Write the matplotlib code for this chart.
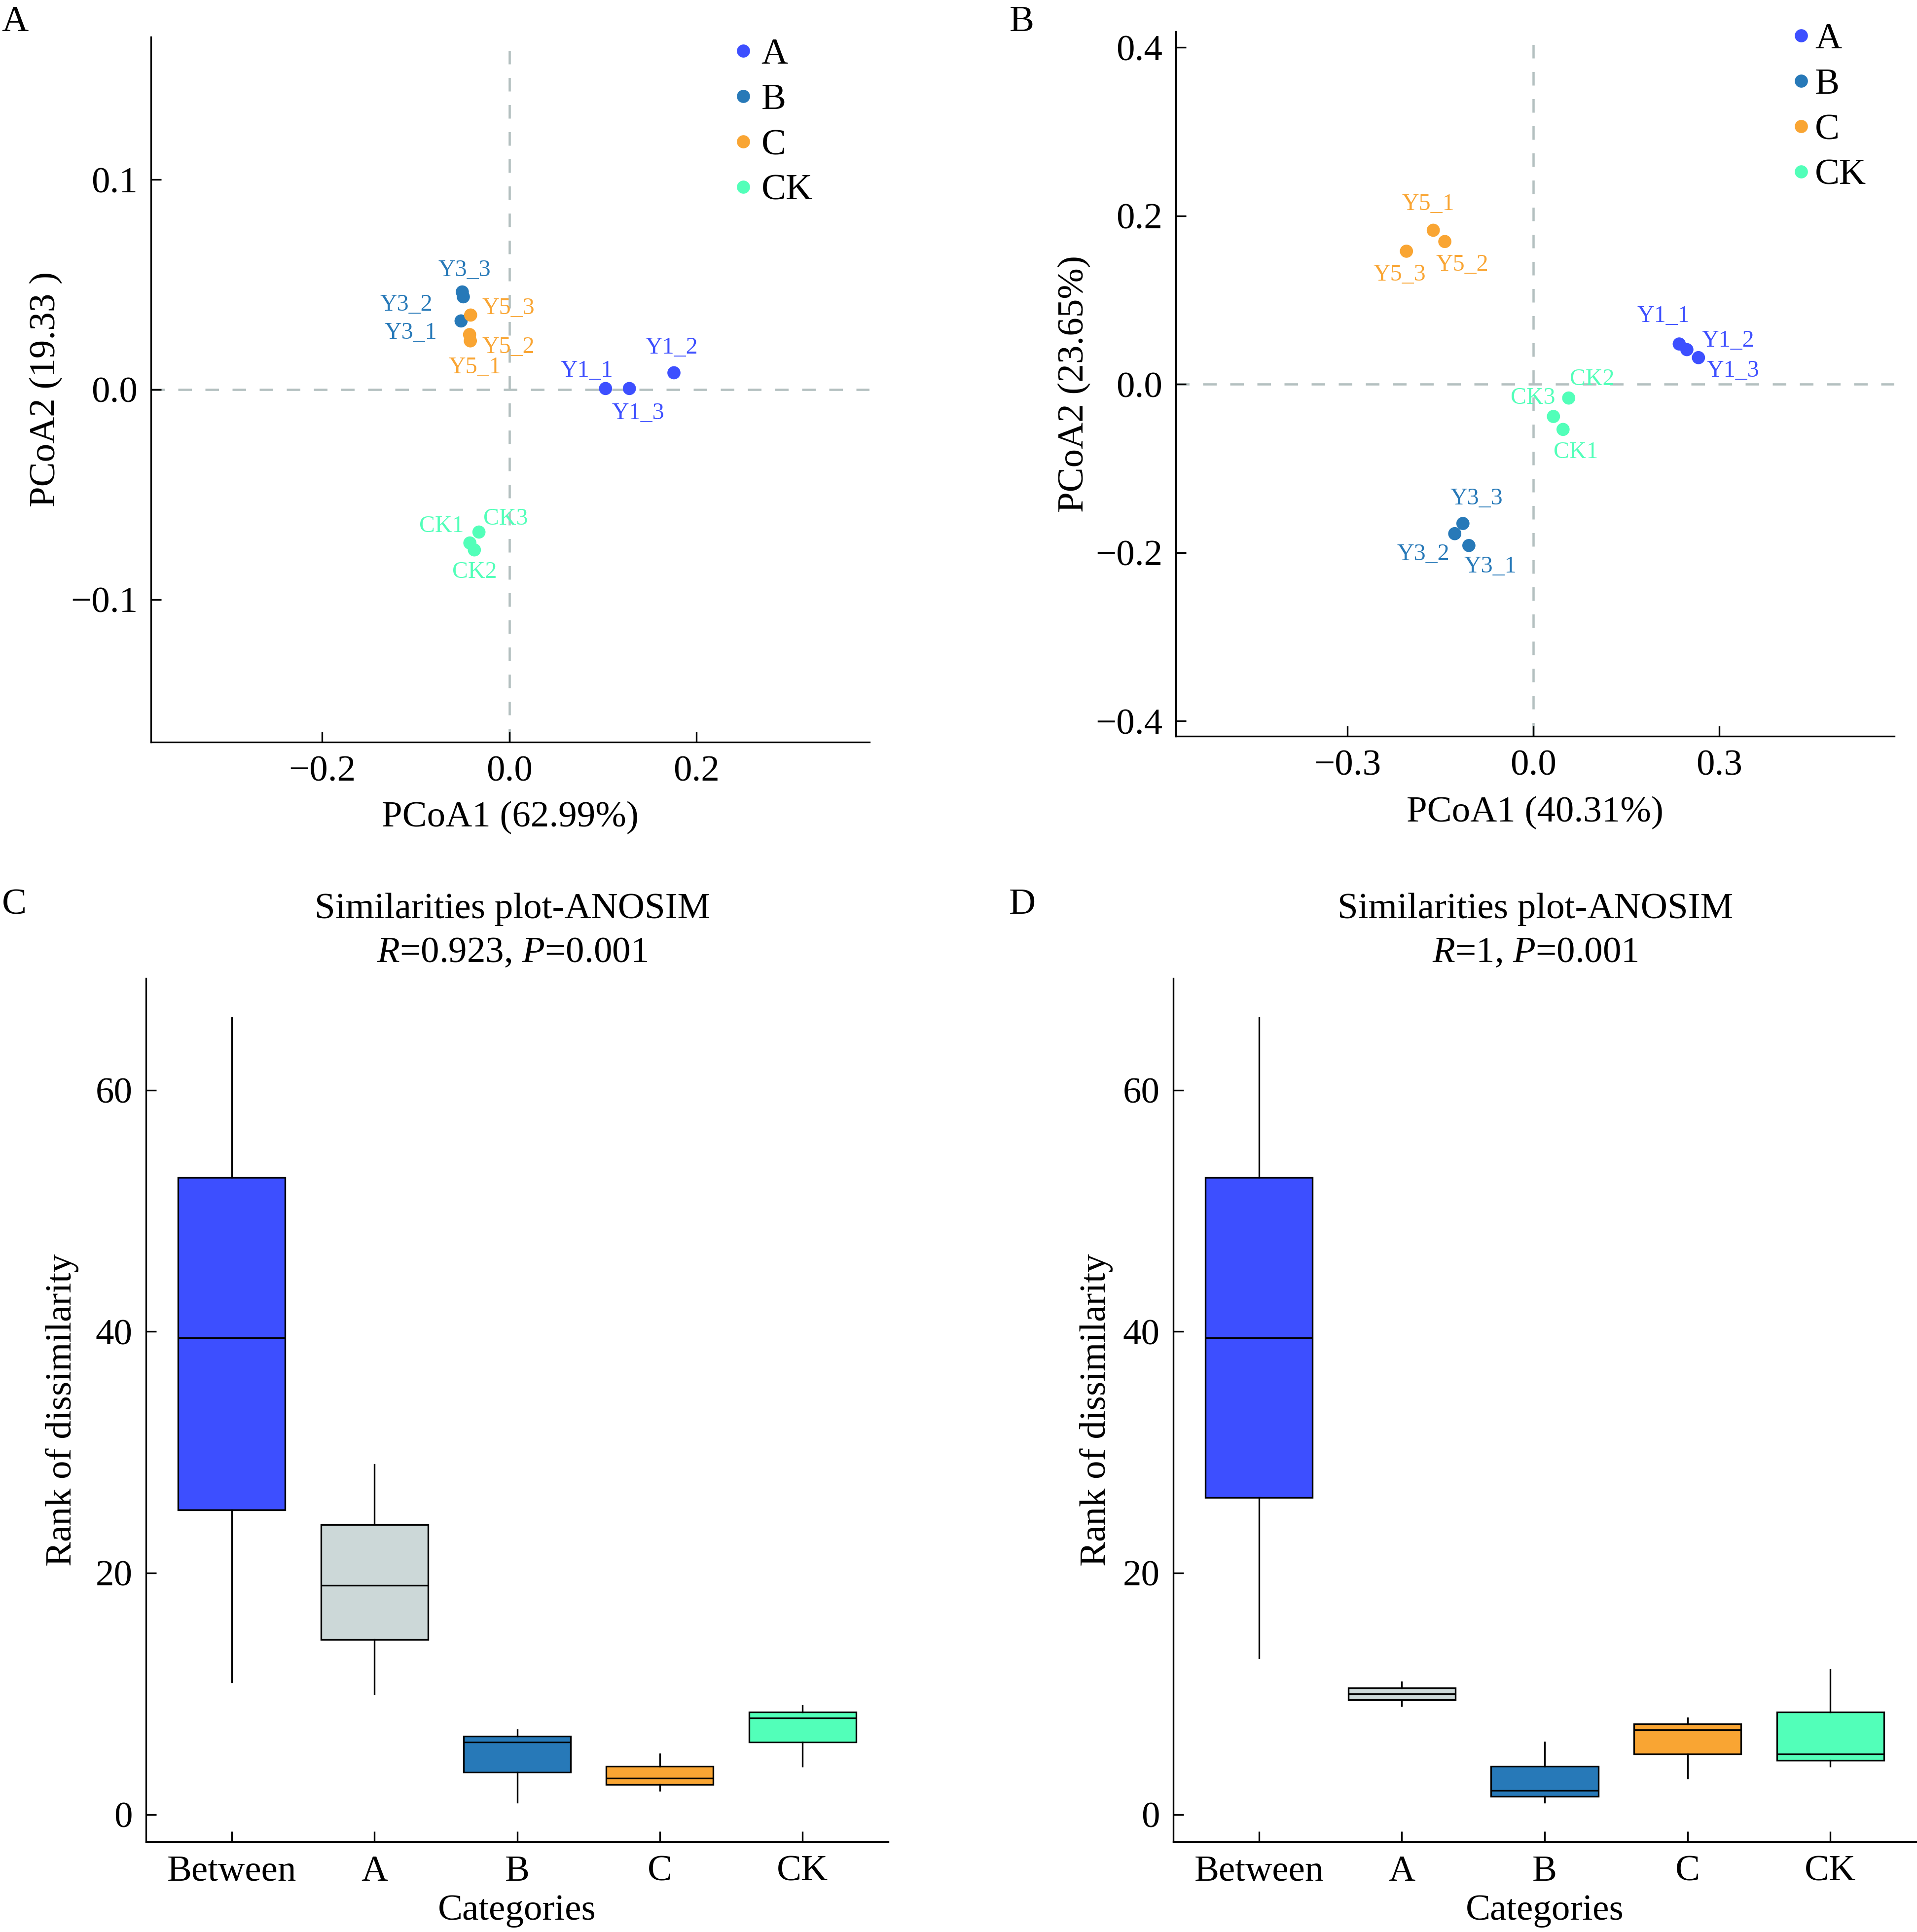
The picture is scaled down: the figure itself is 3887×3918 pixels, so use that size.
import matplotlib
matplotlib.use("Agg")
import matplotlib.pyplot as plt
from matplotlib.lines import Line2D

plt.rcParams['font.family'] = ['Liberation Serif', 'DejaVu Serif']
plt.rcParams['mathtext.fontset'] = 'custom'
plt.rcParams['mathtext.rm'] = 'Liberation Serif'
plt.rcParams['mathtext.it'] = 'Liberation Serif:italic'

# ---------------- data ----------------
groups = ['A', 'B', 'C', 'CK']
group_colors = ['#3D4FFF', '#2779B8', '#F9A533', '#52FFB9']

samples = ['Y1_1', 'Y1_2', 'Y1_3', 'Y3_1', 'Y3_2', 'Y3_3',
           'Y5_1', 'Y5_2', 'Y5_3', 'CK1', 'CK2', 'CK3']
sample_group = ['A', 'A', 'A', 'B', 'B', 'B', 'C', 'C', 'C', 'CK', 'CK', 'CK']

pcoa_a_x = [0.1029, 0.1760, 0.1284, -0.0515, -0.0491, -0.0502,
            -0.0416, -0.0424, -0.0413, -0.0421, -0.0373, -0.0324]
pcoa_a_y = [0.0005, 0.0080, 0.0005, 0.0327, 0.0442, 0.0465,
            0.0232, 0.0262, 0.0355, -0.0731, -0.0764, -0.0679]

pcoa_b_x = [0.2351, 0.2474, 0.2661, -0.1042, -0.1270, -0.1138,
            -0.1616, -0.1430, -0.2049, 0.0477, 0.0568, 0.0322]
pcoa_b_y = [0.0479, 0.0412, 0.0317, -0.1915, -0.1774, -0.1653,
            0.1830, 0.1696, 0.1581, -0.0536, -0.0163, -0.0382]

pcoa_a_xlabel = 'PCoA1 (62.99%)'
pcoa_a_ylabel = 'PCoA2 (19.33 )'
pcoa_b_xlabel = 'PCoA1 (40.31%)'
pcoa_b_ylabel = 'PCoA2 (23.65%)'

a_xticks = [-0.2, 0.0, 0.2]
a_yticks = [-0.1, 0.0, 0.1]
b_xticks = [-0.3, 0.0, 0.3]
b_yticks = [-0.4, -0.2, 0.0, 0.2, 0.4]

box_categories = ['Between', 'A', 'B', 'C', 'CK']
box_colors = ['#3D4FFF', '#CCD8D8', '#2779B8', '#F9A533', '#52FFB9']

# panel C box statistics (rank of dissimilarity)
c_low = [11, 10, 1, 2, 4]
c_q1 = [25.25, 14.5, 3.5, 2.5, 6]
c_med = [39.5, 19, 6, 3, 8]
c_q3 = [52.75, 24, 6.5, 4, 8.5]
c_high = [66, 29, 7, 5, 9]

# panel D box statistics
d_low = [13, 9, 1, 3, 4]
d_q1 = [26.25, 9.5, 1.5, 5, 4.5]
d_med = [39.5, 10, 2, 7, 5]
d_q3 = [52.75, 10.5, 4, 7.5, 8.5]
d_high = [66, 11, 6, 8, 12]

box_yticks = [0, 20, 40, 60]
c_title = ['Similarities plot-ANOSIM', r'$\mathit{R}$=0.923, $\mathit{P}$=0.001']
d_title = ['Similarities plot-ANOSIM', r'$\mathit{R}$=1, $\mathit{P}$=0.001']

# label offsets (points, relative to the point; cap-centre)
a_label_off = [(-9.1, 9.6), (-1.2, 13.1), (4.2, -11.0), (-24.6, -5.0), (-27.7, -2.9), (1.1, 11.6),
               (2.2, -12.1), (18.9, -5.1), (18.4, 4.3), (-13.8, 9.1), (0.2, -9.8), (13.0, 7.4)]
b_label_off = [(-7.7, 14.6), (20.0, 5.2), (16.8, -5.5), (10.5, -9.4), (-15.4, -9.0), (6.6, 13.1),
               (-2.6, 13.5), (8.5, -10.3), (-3.3, -10.6), (6.3, -10.1), (11.3, 10.1), (-9.9, 9.9)]

# ---------------- figure ----------------
W, H = 3887, 3918
fig = plt.figure(figsize=(W / 300, H / 300), dpi=300)

def frac(l, r, b, t):
    return [l / W, 1 - b / H, (r - l) / W, (b - t) / H]

axA = fig.add_axes(frac(306, 1763, 1505, 75))
axB = fig.add_axes(frac(2384, 3841, 1493, 64))
axC = fig.add_axes(frac(296, 1801, 3735, 1984))
axD = fig.add_axes(frac(2379, 3885, 3735, 1984))

FS = 18
LAB_FS = 11.5
color_of = dict(zip(groups, group_colors))

def style(ax):
    for s in ['top', 'right']:
        ax.spines[s].set_visible(False)
    for s in ['left', 'bottom']:
        ax.spines[s].set_linewidth(0.8)
    ax.tick_params(direction='in', length=5, width=0.8, labelsize=FS, pad=6.5)

def fmt(v):
    return f"{v:.1f}".replace('-', '\u2212')

def pcoa(ax, xs, ys, offs, xlim, ylim, xt, yt, xlabel, ylabel, leg_anchor, leg_pad, xl_y, yl_x):
    style(ax)
    ax.axhline(0, color='#B4C0C0', lw=1.1, ls=(0, (6, 6)), zorder=1)
    ax.axvline(0, color='#B4C0C0', lw=1.1, ls=(0, (6, 6)), zorder=1)
    cols = [color_of[g] for g in sample_group]
    ax.scatter(xs, ys, s=41, c=cols, edgecolors='none', zorder=3)
    for name, x, y, c, (dx, dy) in zip(samples, xs, ys, cols, offs):
        ax.annotate(name, (x, y), xytext=(dx, dy - 0.33 * LAB_FS), textcoords='offset points',
                    ha='center', va='baseline', fontsize=LAB_FS, color=c, zorder=4)
    ax.set_xlim(*xlim)
    ax.set_ylim(*ylim)
    ax.set_xticks(xt)
    ax.set_xticklabels([fmt(v) for v in xt])
    ax.set_yticks(yt)
    ax.set_yticklabels([fmt(v) for v in yt])
    ax.set_xlabel(xlabel, fontsize=FS)
    ax.set_ylabel(ylabel, fontsize=FS)
    ax.xaxis.set_label_coords(0.5, xl_y)
    ax.yaxis.set_label_coords(yl_x, 0.5)
    handles = [Line2D([], [], marker='o', ls='', color=c, markersize=6.4, markeredgewidth=0)
               for c in group_colors]
    ax.legend(handles, groups, loc='upper left', bbox_to_anchor=leg_anchor, frameon=False,
              fontsize=FS, handlelength=0.8, handletextpad=leg_pad, labelspacing=0.312,
              borderpad=0, borderaxespad=0)

pcoa(axA, pcoa_a_x, pcoa_a_y, a_label_off, (-0.383, 0.385), (-0.168, 0.168),
     a_xticks, a_yticks, pcoa_a_xlabel, pcoa_a_ylabel, (0.804, 0.9988), 0.08, -0.084, -0.1225)
pcoa(axB, pcoa_b_x, pcoa_b_y, b_label_off, (-0.577, 0.582), (-0.418, 0.419),
     b_xticks, b_yticks, pcoa_b_xlabel, pcoa_b_ylabel, (0.8494, 1.0128), -0.02, -0.0854, -0.1177)

def boxes(ax, low, q1, med, q3, high, yl_x):
    style(ax)
    stats = [dict(whislo=a, q1=b, med=m, q3=c, whishi=d, label=l)
             for a, b, m, c, d, l in zip(low, q1, med, q3, high, box_categories)]
    pos = list(range(1, len(box_categories) + 1))
    res = ax.bxp(stats, positions=pos, widths=0.75, patch_artist=True, showfliers=False,
                 showcaps=False,
                 boxprops=dict(linewidth=0.8, edgecolor='black'),
                 medianprops=dict(linewidth=0.8, color='black'),
                 whiskerprops=dict(linewidth=0.8, color='black'))
    for patch, c in zip(res['boxes'], box_colors):
        patch.set_facecolor(c)
    ax.set_xlim(0.4, 5.6)
    ax.set_ylim(-2.25, 69.25)
    ax.set_xticks(pos)
    ax.set_xticklabels(box_categories)
    ax.set_yticks(box_yticks)
    ax.set_xlabel('Categories', fontsize=FS)
    ax.set_ylabel('Rank of dissimilarity', fontsize=FS)
    ax.xaxis.set_label_coords(0.5, -0.061)
    ax.yaxis.set_label_coords(yl_x, 0.5)

boxes(axC, c_low, c_q1, c_med, c_q3, c_high, -0.0905)
boxes(axD, d_low, d_q1, d_med, d_q3, d_high, -0.081)

# titles
for xc, lines in [(1039 / W, c_title), (3113 / W, d_title)]:
    fig.text(xc, 1 - 1862 / H, lines[0], ha='center', va='baseline', fontsize=FS)
    fig.text(xc, 1 - 1951 / H, lines[1], ha='center', va='baseline', fontsize=FS)

# panel letters
for letter, x, yb in [('A', 3, 63), ('B', 2047, 63), ('C', 4, 1853), ('D', 2046, 1853)]:
    fig.text(x / W, 1 - yb / H, letter, ha='left', va='baseline', fontsize=FS)

fig.savefig('out.png', dpi=300)
